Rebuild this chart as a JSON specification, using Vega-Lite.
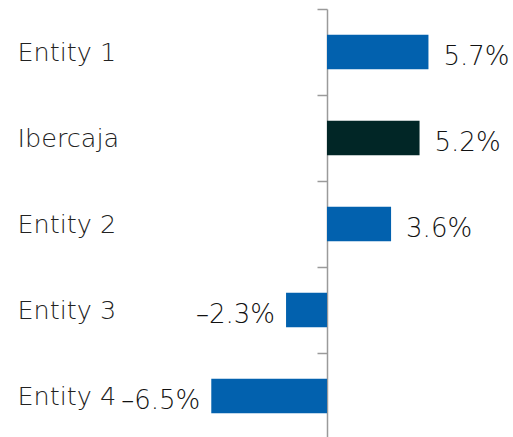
{
  "$schema": "https://vega.github.io/schema/vega-lite/v6.json",
  "width": 513,
  "height": 430,
  "autosize": {"type": "none"},
  "padding": {"top": 9, "left": 0, "right": 0, "bottom": 0},
  "background": "white",
  "config": {"view": {"stroke": null}},
  "data": {
    "values": [
      {"entity": "Entity 1", "value": 5.7, "label": "5.7%", "group": "peer"},
      {"entity": "Ibercaja", "value": 5.2, "label": "5.2%", "group": "Ibercaja"},
      {"entity": "Entity 2", "value": 3.6, "label": "3.6%", "group": "peer"},
      {"entity": "Entity 3", "value": -2.3, "label": "–2.3%", "group": "peer"},
      {"entity": "Entity 4", "value": -6.5, "label": "–6.5%", "group": "peer"}
    ]
  },
  "encoding": {
    "y": {
      "field": "entity",
      "type": "nominal",
      "sort": null,
      "title": null,
      "scale": {"paddingInner": 0, "paddingOuter": 0},
      "axis": {
        "orient": "left",
        "offset": -327,
        "tickBand": "extent",
        "tickSize": 10,
        "tickColor": "#9a9a9a",
        "tickWidth": 1.5,
        "domainColor": "#9a9a9a",
        "domainWidth": 1.5,
        "labelAlign": "left",
        "labelPadding": 300,
        "labelFont": "DejaVu Sans",
        "labelFontWeight": 200,
        "labelFontSize": 25.5,
        "labelColor": "#222222",
        "labelBaseline": "middle",
        "labelLimit": 0
      }
    },
    "x": {
      "field": "value",
      "type": "quantitative",
      "scale": {"domain": [-18.37, 10.45], "nice": false, "zero": false},
      "axis": null
    }
  },
  "layer": [
    {
      "mark": {"type": "bar", "height": {"band": 0.4}},
      "encoding": {
        "color": {
          "field": "group",
          "type": "nominal",
          "scale": {"domain": ["peer", "Ibercaja"], "range": ["#0261ae", "#012626"]},
          "legend": null
        }
      }
    },
    {
      "transform": [{"filter": "datum.value >= 0"}],
      "mark": {"type": "text", "align": "left", "baseline": "middle", "dx": 15, "dy": 5, "font": "DejaVu Sans", "fontWeight": 200, "fontSize": 26, "color": "#111111"},
      "encoding": {"text": {"field": "label"}}
    },
    {
      "transform": [{"filter": "datum.value < 0"}],
      "mark": {"type": "text", "align": "right", "baseline": "middle", "dx": -11, "dy": 5, "font": "DejaVu Sans", "fontWeight": 200, "fontSize": 26, "color": "#111111"},
      "encoding": {"text": {"field": "label"}}
    }
  ]
}
